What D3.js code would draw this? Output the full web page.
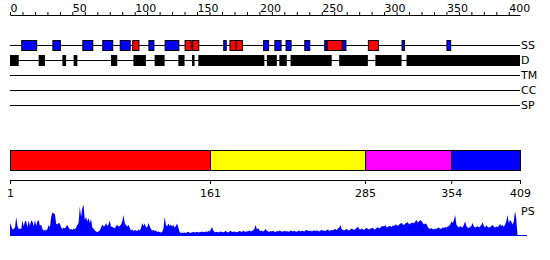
<!DOCTYPE html>
<html>
<head>
<meta charset="utf-8">
<style>
    body { margin: 0; background: white; }
    svg { display: block; font-family: 'DejaVu Sans', Verdana, sans-serif; }
</style>
</head>
<body>
<svg width="550" height="260"></svg>

<script src="https://d3js.org/d3.v7.min.js"></script>
<script>
    // secondary structure: strands (blue) and helices (red), residue ranges
    let strandSegments = [[9,21],[34,40],[58,66],[74,82],[88,96],[111,115],[124,135],[171,173],
        [203,207],[212,217],[221,225],[236,240],[252,254],[266,269],[314,316],[350,353]];
    let helixSegments = [[98,103],[140,145],[146,151],[176,181],[181,186],[254,266],[287,295]];
    // disordered regions
    let disorderSegments = [[0,7],[23,28],[42,45],[51,54],[81,86],[99,109],[116,124],[135,140],
        [146,148],[151,204],[206,214],[216,222],[225,258],[264,287],[293,314],[318,409]];
    let rowLabels = ["SS", "D", "TM", "CC", "SP"];
    let domainBounds = [1, 161, 285, 354, 409];
    let domainColors = ["#ff0000", "#ffff00", "#ff00ff", "#0000ff"];
    // PS profile, one value per residue (0-100)
    let psValues = [
        40,30,18,20,25,60,30,20,22,20,
        48,28,47,45,27,48,30,48,45,28,
        50,30,46,50,30,35,20,15,17,15,
        20,33,25,60,75,72,70,38,35,40,
        38,25,20,25,22,28,33,25,18,20,
        17,22,18,25,33,40,95,60,90,100,
        50,60,45,57,40,53,25,22,15,12,
        10,12,15,25,35,28,30,40,30,35,
        48,28,27,25,22,30,33,28,30,35,
        45,67,40,33,28,33,25,15,18,13,
        17,15,13,18,15,22,40,30,38,27,
        25,40,30,20,15,17,13,15,10,12,
        10,8,10,20,60,35,28,38,30,35,
        28,33,25,30,38,25,10,7,8,7,
        8,7,9,10,8,7,9,10,8,9,
        11,8,9,10,12,9,10,12,10,13,
        12,18,27,15,10,9,11,8,10,12,
        10,9,11,13,10,8,12,14,10,11,
        12,10,9,11,13,12,10,14,12,11,
        12,13,15,12,14,16,20,33,18,23,
        15,13,14,12,15,20,14,12,11,13,
        12,14,11,10,13,12,15,13,11,12,
        14,12,13,11,12,15,13,12,14,12,
        11,13,15,12,14,13,12,15,17,14,
        13,15,12,14,16,13,15,14,12,15,
        17,14,15,13,16,18,14,15,17,16,
        18,20,16,22,25,33,20,17,15,18,
        20,17,15,18,22,19,17,20,23,28,
        20,18,22,19,17,21,24,20,18,22,
        22,25,18,20,23,26,22,25,28,30,
        28,33,25,27,30,30,27,32,30,35,
        33,30,34,38,40,35,33,38,40,43,
        35,38,40,42,38,45,50,42,45,50,
        47,40,35,38,37,27,22,20,23,20,
        18,22,20,23,25,20,22,25,23,27,
        25,28,30,35,45,40,50,67,35,28,
        25,30,27,25,35,45,30,25,23,27,
        30,40,28,25,27,30,25,28,33,43,
        30,25,33,27,25,27,30,33,28,25,
        28,27,30,37,30,33,27,35,45,67,
        40,50,45,35,45,80,55,0,0
    ];

    let svg = d3.select("svg");

    let x = d3.scaleLinear().domain([0, 409]).range([10, 520]);
    let xb = d3.scaleLinear().domain([1, 409]).range([10, 520]);

    // top ruler
    let topAxis = svg.append("g")
        .attr("transform", "translate(0,15)")
        .call(d3.axisTop(x)
            .tickValues(d3.range(0, 401, 10))
            .tickSize(3)
            .tickSizeOuter(0)
            .tickPadding(0)
            .tickFormat(d => d % 50 === 0 ? d : ""));
    topAxis.selectAll("text")
        .attr("text-anchor", "start")
        .style("font-family", "'DejaVu Sans', Verdana, sans-serif")
        .style("font-size", "11px")
        .attr("fill", "black");

    // feature rows
    let rowY = [45.5, 60.5, 75.5, 90.5, 105.5];
    rowLabels.forEach((lab, i) => {
        svg.append("line")
            .attr("x1", x(0)).attr("x2", x(409))
            .attr("y1", rowY[i]).attr("y2", rowY[i])
            .attr("stroke", "black");
        svg.append("text")
            .attr("x", x(409) + 1)
            .attr("y", rowY[i])
            .attr("dy", "0.35em")
            .style("font-size", "11px")
            .text(lab);
    });

    svg.append("g").selectAll("rect")
        .data(disorderSegments)
        .join("rect")
        .attr("x", d => x(d[0]))
        .attr("width", d => x(d[1]) - x(d[0]))
        .attr("y", 55)
        .attr("height", 11)
        .attr("fill", "black");

    let ss = strandSegments.map(d => ({s: d[0], e: d[1], c: "#0000ff"}))
        .concat(helixSegments.map(d => ({s: d[0], e: d[1], c: "#ff0000"})));
    svg.append("g").selectAll("rect")
        .data(ss)
        .join("rect")
        .attr("x", d => x(d.s) + 0.5)
        .attr("width", d => x(d.e) - x(d.s))
        .attr("y", 40.5)
        .attr("height", 10)
        .attr("fill", d => d.c)
        .attr("stroke", "black");

    // domain bar
    svg.append("g").selectAll("rect")
        .data(domainColors)
        .join("rect")
        .attr("x", (d, i) => xb(domainBounds[i]) + 0.5)
        .attr("width", (d, i) => xb(domainBounds[i + 1]) - xb(domainBounds[i]))
        .attr("y", 150.5)
        .attr("height", 20)
        .attr("fill", d => d)
        .attr("stroke", "black");

    let botAxis = svg.append("g")
        .attr("transform", "translate(0,180)")
        .call(d3.axisBottom(xb)
            .tickValues(domainBounds)
            .tickSize(4)
            .tickSizeOuter(0)
            .tickPadding(5));
    botAxis.selectAll("text")
        .style("font-family", "'DejaVu Sans', Verdana, sans-serif")
        .style("font-size", "11px")
        .attr("fill", "black");

    // PS profile
    let y = d3.scaleLinear().domain([0, 100]).range([235, 205]);
    svg.append("path")
        .datum(psValues)
        .attr("d", d3.area()
            .x((d, i) => x(i))
            .y0(y(0))
            .y1(d => y(d)))
        .attr("fill", "#0000ff");
    svg.append("line")
        .attr("x1", x(0)).attr("x2", x(409) + 7)
        .attr("y1", y(0) + 0.5).attr("y2", y(0) + 0.5)
        .attr("stroke", "#0000ff");
    svg.append("text")
        .attr("x", x(409) + 1)
        .attr("y", 211)
        .attr("dy", "0.35em")
        .style("font-size", "11px")
        .text("PS");
</script>
</body>
</html>
